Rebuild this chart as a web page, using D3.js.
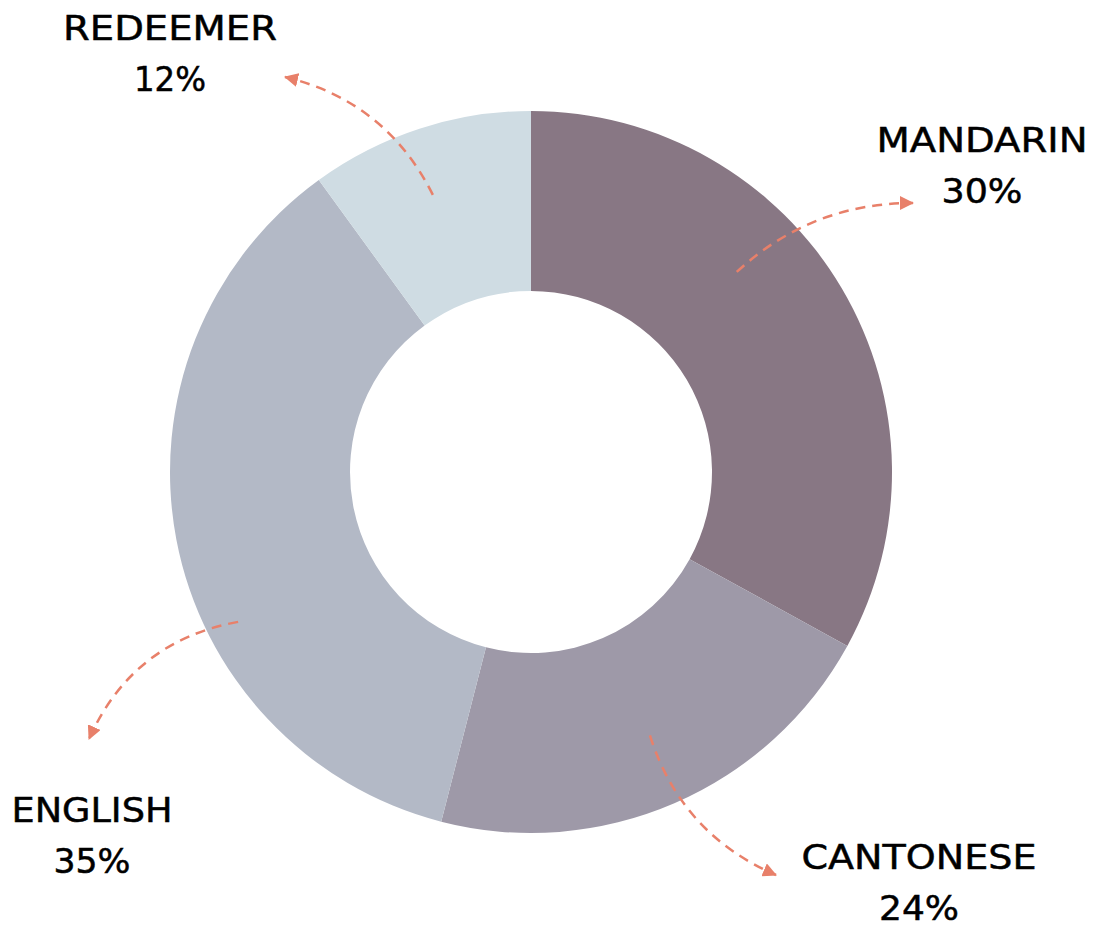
<!DOCTYPE html>
<html>
<head>
<meta charset="utf-8">
<script src="https://cdn.jsdelivr.net/npm/d3@7"></script>
<style>
  html, body { margin: 0; padding: 0; background: #fff; }
  svg { display: block; }
</style>
</head>
<body>
<div id="chart"></div>
<script>
// Donut chart — language share with dashed call-out arrows
const categories = ["MANDARIN", "CANTONESE", "ENGLISH", "REDEEMER"];
const values = [33, 21, 36, 10];           // slice sizes as drawn
const percentLabels = ["30%", "24%", "35%", "12%"];
const colors = ["#887784", "#9e99a8", "#b3b9c6", "#cfdce3"];

(function(){
  const width = 1099, height = 927;
  const cx = 531, cy = 472;
  const outerR = 361, innerR = 181;
  const arrowColor = "#e8806a";

  const data = categories.map((c, i) => ({ name: c, value: values[i], pct: percentLabels[i], color: colors[i] }));

  const svg = d3.select("#chart").append("svg")
    .attr("width", width)
    .attr("height", height);

  const defs = svg.append("defs");
  defs.append("marker")
    .attr("id", "head")
    .attr("markerUnits", "userSpaceOnUse")
    .attr("viewBox", "0 0 14 14")
    .attr("markerWidth", 14)
    .attr("markerHeight", 14)
    .attr("refX", 13)
    .attr("refY", 7)
    .attr("orient", "auto")
    .append("path")
    .attr("d", "M0,0 L14,7 L0,14 Z")
    .attr("fill", arrowColor);

  const g = svg.append("g").attr("transform", `translate(${cx},${cy})`);

  const pie = d3.pie().value(d => d.value).sort(null);
  const arc = d3.arc().innerRadius(innerR).outerRadius(outerR);

  g.selectAll("path.slice")
    .data(pie(data))
    .join("path")
    .attr("class", "slice")
    .attr("d", arc)
    .attr("fill", d => d.data.color);

  // label placement, text widths + arrow geometry (start in polar coords around the donut centre)
  const layout = {
    MANDARIN:  { x: 982, y: 152, w: 211, pw: 81, startAng: 45.8,  startR: 287, tip: [-69, 51],  bend: 37 },
    CANTONESE: { x: 919, y: 869, w: 235, pw: 80, startAng: 155.7, startR: 289, tip: [-143, 6],  bend: -43 },
    ENGLISH:   { x: 92,  y: 822, w: 161, pw: 77, startAng: 242.9, startR: 329, tip: [-3, -83],  bend: -50 },
    REDEEMER:  { x: 170, y: 40,  w: 214, pw: 72, startAng: 340.5, startR: 294, tip: [115, 37],  bend: -44 }
  };

  const labels = svg.append("g")
    .attr("font-family", "'DejaVu Sans', sans-serif")
    .attr("font-size", 34)
    .attr("fill", "#000")
    .attr("stroke", "#000")
    .attr("stroke-width", 0.5);

  data.forEach(d => {
    const L = layout[d.name];
    labels.append("text")
      .attr("x", L.x)
      .attr("y", L.y)
      .attr("text-anchor", "middle")
      .attr("textLength", L.w)
      .attr("lengthAdjust", "spacingAndGlyphs")
      .text(d.name);
    labels.append("text")
      .attr("x", L.x)
      .attr("y", L.y + 51)
      .attr("text-anchor", "middle")
      .attr("textLength", L.pw)
      .attr("lengthAdjust", "spacingAndGlyphs")
      .text(d.pct);

    // dashed curved arrow
    const s = d3.pointRadial(L.startAng * Math.PI / 180, L.startR);
    const p0 = [cx + s[0], cy + s[1]];
    const p2 = [L.x + L.tip[0], L.y + L.tip[1]];
    const dx = p2[0] - p0[0], dy = p2[1] - p0[1];
    const len = Math.hypot(dx, dy);
    const nx = dy / len, ny = -dx / len;
    const c = [(p0[0] + p2[0]) / 2 + nx * L.bend, (p0[1] + p2[1]) / 2 + ny * L.bend];
    const path = d3.path();
    path.moveTo(p0[0], p0[1]);
    path.quadraticCurveTo(c[0], c[1], p2[0], p2[1]);
    svg.append("path")
      .attr("d", path.toString())
      .attr("fill", "none")
      .attr("stroke", arrowColor)
      .attr("stroke-width", 2.5)
      .attr("stroke-dasharray", "10,7")
      .attr("marker-end", "url(#head)");
  });
})();
</script>
</body>
</html>
